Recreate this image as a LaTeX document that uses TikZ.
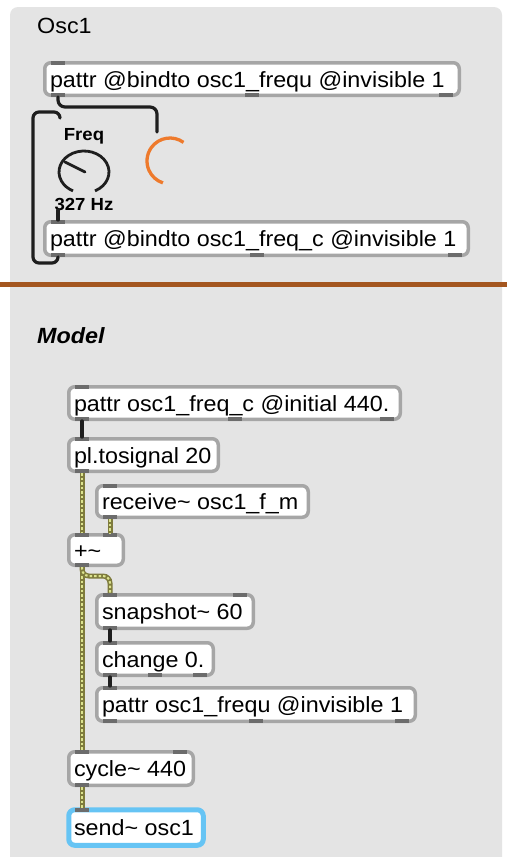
\documentclass[tikz,border=0pt]{standalone}
\usepackage{fontspec}
\setmainfont{Liberation Sans}[FakeStretch=1.06]
\usetikzlibrary{calc}

\definecolor{panel}{HTML}{E4E4E4}
\definecolor{boxedge}{HTML}{A6A6A6}
\definecolor{tab}{HTML}{6C6C6C}
\definecolor{divider}{HTML}{A4561F}
\definecolor{sigbase}{HTML}{7E7B3C}
\definecolor{sigdash}{HTML}{DCE38E}
\definecolor{selblue}{HTML}{66C4F4}
\definecolor{dialorange}{HTML}{EE7A2C}
\definecolor{cablek}{HTML}{1E1E1E}

\newcommand\objfont{\fontsize{22}{26}\selectfont}
\newcommand\lblfont{\fontsize{17.5}{20}\selectfont}

\tikzset{
  objbox/.style={draw=boxedge, line width=3.5pt, fill=white, rounded corners=6pt,
    inner xsep=5.25pt, inner ysep=0pt, outer sep=0pt,
    text height=19pt, text depth=3pt, font=\objfont},
  ctl/.style={draw=cablek, line width=3.2pt, line cap=round},
  sig/.style={draw=sigbase, line width=5pt,
    postaction={draw=sigdash, line width=2pt, dash pattern=on 2.5pt off 2pt}},
  dialline/.style={draw=cablek, line width=2.8pt},
}

% object box given by its outer edges: [options]{name}{left}{top}{right}{bottom}{text}
\newcommand\maxobj[7][]{%
  \pgfmathsetmacro\objw{#5-#3-3.5}%
  \pgfmathsetmacro\objh{#6-#4-3.5}%
  \pgfmathsetmacro\objt{#5-#3-3.5-10.5}%
  \node[objbox,minimum width=\objw pt,minimum height=\objh pt,#1] (#2)
    at ({(#3+#5)/2},{(#4+#6)/2}) {\makebox[\objt pt][l]{#7}};%
}
% inlet (top edge) and outlet (bottom edge) tabs
\newcommand\ttab[2]{\fill[tab] ($(#1)+(#2-7,-1.75)$) rectangle ++(14,4);}
\newcommand\btab[2]{\fill[tab] ($(#1)+(#2-7,1.75)$) rectangle ++(14,-4);}

\begin{document}
\begin{tikzpicture}[x=1pt,y=-1pt]
\useasboundingbox (0,0) rectangle (507,857);
\fill[white] (0,0) rectangle (507,857);
\begin{scope}
  \clip (0,0) rectangle (507,857);
  \fill[panel, rounded corners=8pt] (10,7) rectangle (502,880);
\end{scope}
\draw[divider, line width=5pt] (0,284) -- (507,284);

% ---------- upper patcher section ----------
\node[anchor=base west, font=\objfont, inner sep=0pt] (osc) at (37,33) {Osc1};

\maxobj{b1}{43}{61}{461}{97}{pattr @bindto osc1\_frequ @invisible 1}
\maxobj{b2}{43}{220}{470}{257}{pattr @bindto osc1\_freq\_c @invisible 1}
\foreach \n in {b1,b2}{
  \ttab{\n.north west}{13.25}
  \btab{\n.south west}{13.25}
  \btab{\n.south}{0}
  \btab{\n.south east}{-13.25}
}

% live.dial with label and value
\node[minimum width=60pt, minimum height=92pt, inner sep=0pt, outer sep=0pt] (dial) at (84,164) {};
\node[font=\lblfont\bfseries, anchor=base, inner sep=0pt] (flabel) at (84,140) {Freq};
\node[font=\lblfont\bfseries, anchor=base, inner sep=0pt] (fvalue) at (84,210) {327 Hz};
\draw[dialline] (84,172) ++(64:25 and 21) arc[start angle=64, end angle=-244, x radius=25, y radius=21];
\draw[dialline, line cap=round] (85,172) -- (65,162);

% orange arc dial
\node[minimum width=42pt, minimum height=58pt, inner sep=0pt, outer sep=0pt] (odial) at (170,161) {};
\draw[dialorange, line width=3.3pt] (170,161) ++(-54:23) arc[start angle=-54, end angle=-252, radius=23];

% control cables
\draw[ctl, rounded corners=7pt] ([shift={(13.25,1.75)}]b1.south west) -- ++(0,10) -| ([xshift=8pt]odial.north west);
\draw[ctl, rounded corners=6pt] ([shift={(13.25,1.75)}]b2.south west) -- ++(0,6) -| (33,112) -| ([xshift=6pt]dial.north west);
\draw[ctl] ([xshift=4pt]dial.south west) -- ([shift={(13.25,-1.75)}]b2.north west);

% ---------- lower patcher section ----------
\node[anchor=base west, font=\objfont\bfseries\itshape, inner sep=0pt] (model) at (37,343) {Model};

\maxobj{pinit}{67}{385}{402}{421}{pattr osc1\_freq\_c @initial 440.}
\maxobj{tosig}{67}{437}{220}{473}{pl.tosignal 20}
\maxobj{recv}{95}{484}{310}{519}{receive\textasciitilde{} osc1\_f\_m}
\maxobj{plus}{67}{533}{125}{567}{+\textasciitilde}
\maxobj{snap}{95}{593}{255}{630}{snapshot\textasciitilde{} 60}
\maxobj{chg}{95}{641}{215}{677}{change 0.}
\maxobj{pfreq}{95}{686}{417}{723}{pattr osc1\_frequ @invisible 1}
\maxobj{cyc}{67}{750}{195}{787}{cycle\textasciitilde{} 440}
\maxobj[draw=selblue, line width=5pt]{send}{67}{808}{205}{847}{send\textasciitilde{} osc1}

\foreach \n in {pinit,tosig,recv,plus,snap,chg,pfreq,cyc,send}{
  \ttab{\n.north west}{13.25}
}
\foreach \n in {plus,snap,cyc}{
  \ttab{\n.north east}{-13.25}
}
\foreach \n in {pinit,tosig,recv,plus,snap,chg,pfreq,cyc}{
  \btab{\n.south west}{13.25}
}
\foreach \n in {pinit,chg,pfreq}{
  \btab{\n.south}{0}
  \btab{\n.south east}{-13.25}
}

% control cables
\draw[ctl] ([shift={(13.25,1.75)}]pinit.south west) -- ([shift={(13.25,-1.75)}]tosig.north west);
\draw[ctl] ([shift={(13.25,1.75)}]snap.south west) -- ([shift={(13.25,-1.75)}]chg.north west);
\draw[ctl] ([shift={(13.25,1.75)}]chg.south west) -- ([shift={(13.25,-1.75)}]pfreq.north west);

% signal cables
\draw[sig] ([shift={(13.25,1.75)}]tosig.south west) -- ([shift={(13.25,-1.75)}]plus.north west);
\draw[sig] ([shift={(13.25,1.75)}]recv.south west) -- ([shift={(-13.25,-1.75)}]plus.north east);
\draw[sig] ([shift={(13.25,1.75)}]plus.south west) -- ([shift={(13.25,-1.75)}]cyc.north west);
\draw[sig, rounded corners=7pt] ([shift={(13.25,1.75)}]plus.south west) -- ++(0,9) -| ([shift={(13.25,-1.75)}]snap.north west);
\draw[sig] ([shift={(13.25,1.75)}]cyc.south west) -- ([shift={(13.25,-1.75)}]send.north west);
\end{tikzpicture}
\end{document}
